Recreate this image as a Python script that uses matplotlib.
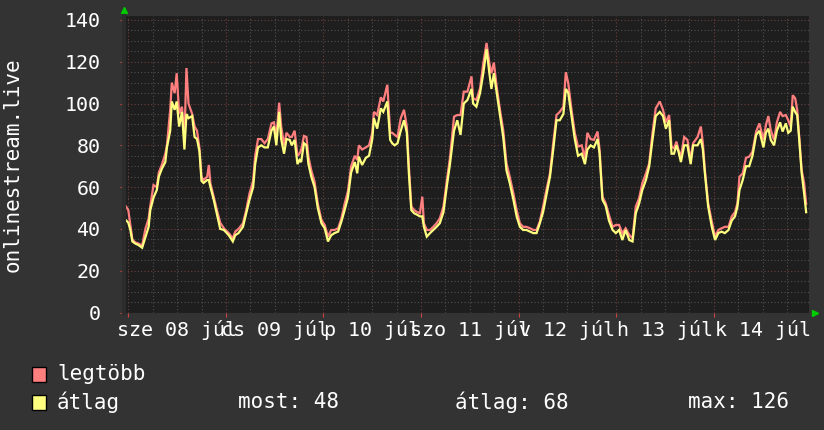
import matplotlib
matplotlib.use("Agg")
import matplotlib.pyplot as plt
from matplotlib.patches import Rectangle
from matplotlib.ticker import MultipleLocator
from matplotlib.transforms import blended_transform_factory

# time in hours since 08 júl 00:00
hours = [-1.0, 0, 0.5, 1, 1.7, 2.5, 3.4, 4.2, 5, 5.4, 6.2, 7, 7.5, 8.3, 9.1, 9.5, 10.3, 10.7, 11.4, 11.9,
         12.5, 13.2, 13.8, 14.3, 14.8, 15.7, 16.3, 16.9, 17.5, 18, 18.5, 19.4, 19.8, 20.2, 21, 21.8, 22.6, 23.5,
         24.7, 25.7, 26.3, 27.1, 28.2, 29, 29.8, 30.7, 31.2, 31.9, 32.7, 33.5, 34.3, 35.2, 35.8, 36.4, 37.1,
         37.6, 38.3, 38.9, 39.7, 40.2, 40.9, 41.6, 42.1, 42.5, 43.2, 43.8, 44.3, 45, 45.8, 46.6, 47.5, 48.3,
         49.1, 49.9, 50.7, 51.6, 52.4, 53.2, 54, 54.8, 55.7, 56.3, 56.7, 57.5, 58.4, 59.2, 60, 60.4, 61.2,
         62.1, 62.7, 63.3, 63.7, 64.4, 64.9, 65.5, 66.2, 67, 67.8, 68.5, 69, 69.6, 70.3, 71.1, 71.7, 72.3,
         72.7, 73.4, 74.2, 75, 75.8, 76.6, 77.5, 78.3, 79.1, 80.1, 80.9, 81.7, 82.5, 83.4, 84.4, 84.8, 85.6,
         86.5, 87.3, 88.1, 88.8, 89.3, 89.9, 90.6, 91.4, 92.2, 93, 93.8, 94.7, 95.5, 96.3, 97.1, 97.9, 98.8,
         99.6, 100.4, 101.2, 102, 102.9, 103.7, 104.5, 105.3, 106.1, 107, 107.6, 108.2, 109, 109.8, 110.6,
         111.5, 112.3, 112.9, 113.7, 114.5, 115.4, 115.9, 116.6, 117.4, 118.2, 119.1, 119.9, 120.7, 121.5,
         122.3, 123.2, 124, 124.8, 125.6, 126.4, 127.3, 128.1, 128.9, 129.7, 130.7, 131.5, 132.2, 133, 133.6,
         134.2, 134.8, 135.3, 135.9, 136.7, 137.5, 138.3, 138.9, 140, 140.8, 141.3, 141.8, 142.6, 143.5,
         144.3, 145.1, 145.9, 146.7, 147.6, 148.4, 149.2, 149.8, 150.3, 151.1, 151.9, 152.7, 153.5, 154.4,
         155.2, 156.2, 156.8, 157.4, 158, 158.8, 159.5, 160.3, 160.9, 161.7, 162.3, 162.9, 163.4, 164,
         164.5, 165, 165.6, 166.2, 166.7]

avg_vals = [45, 43, 39.5, 34, 33, 32.3, 31, 36, 41, 49, 55, 58.6, 65, 69, 72, 79, 87, 101, 97, 101,
            89, 96, 78, 95, 93, 94, 84, 83, 77, 63, 62, 63.4, 63.4, 60, 54, 47, 40, 39.5,
            37, 34, 37, 38, 41, 47.5, 54, 60, 71, 79, 80, 79, 79, 87, 89, 80, 96,
            83, 76, 83, 82.6, 80, 82.6, 71, 73, 72, 81, 80, 71, 65, 60, 50, 42.7, 40.3,
            34, 37, 38, 38.7, 43.5, 49, 55, 67, 72, 66.6, 74.6, 70.6, 74, 75, 83, 93, 88,
            97.7, 96, 99, 101, 82.6, 81, 80, 81, 87, 92, 86, 66.6, 49, 47.5, 46.7, 46, 46,
            41, 36.3, 38, 39.5, 41, 42.7, 48, 60, 71, 87, 92, 85, 100, 101.7, 107, 100, 98.5,
            105, 114.5, 126, 114.5, 107, 114.5, 105, 94.5, 84, 68, 62, 54, 46, 41, 39.5, 39.5, 38.7,
            38, 38, 42.7, 48, 57, 65, 78, 92, 92, 95, 107, 105, 94, 83, 75,
            76, 71, 78, 80, 79, 83, 76, 54, 51, 44, 39.5, 38, 39.5, 34.7,
            39.5, 34.7, 34, 47.5, 52, 58.6, 63.4, 70, 82.6, 94, 96, 94, 88, 92, 76,
            76, 80, 77, 72, 80, 80, 71, 80, 80, 83, 78, 66.6, 50.7, 41,
            34.7, 38, 38.7, 38, 39.5, 44, 46, 50.7, 58.6, 63.4, 70, 70, 75, 85,
            87, 79, 86, 88, 82.6, 80, 87, 91, 86.6, 90.5, 86, 87, 98.5, 96,
            94.5, 82.6, 66.6, 57, 48]

max_vals = [52, 49, 42, 35, 33.5, 33, 32, 40, 45, 51, 61, 60, 67, 71, 76, 80, 97, 110, 105, 114.5,
            95, 98.5, 83, 117, 100, 95, 89, 87, 78.6, 65, 63.4, 65, 70.6, 61.8, 55.4, 49, 43, 40.3,
            38, 35.5, 38.7, 40, 42.7, 49, 57, 63, 75, 83, 83, 81, 83, 90.5, 91, 84, 100.4,
            89, 80, 86, 84, 84, 87, 75, 76, 77.8, 84.5, 84, 74.6, 68, 62.6, 52, 44.3, 41.9,
            36.3, 39.5, 39.5, 40.3, 45, 52, 58, 70, 75, 73, 80, 78, 79, 80, 86, 96, 94.5,
            103, 101, 105.7, 109, 86, 86, 85, 84, 93, 97, 89, 70, 50.7, 49, 48, 47.5, 55.4,
            42.7, 39.5, 39.5, 41, 42.7, 45, 50.7, 62.6, 74, 93.7, 94.5, 94.5, 105.7, 105.7, 113, 102.5, 101.7,
            107.3, 119.3, 129, 119.3, 114.5, 119.6, 108, 97, 87.3, 71.4, 65, 57, 49, 42.7, 41, 41, 40.3,
            39.5, 39.5, 43.5, 50.7, 59.4, 66.6, 81, 94.5, 96, 98.5, 115, 109.7, 97, 86, 79.4,
            80, 73.8, 86, 83, 82.6, 86.6, 77.8, 55.4, 52.3, 46.7, 41, 41.9, 41.9, 37.9,
            40.3, 37.1, 35.5, 50.7, 54.6, 61.8, 66.6, 71.4, 85.8, 97.7, 101, 97, 91, 94.5, 79.4,
            78.6, 81.8, 77.8, 74.6, 84, 82.6, 73, 81, 84, 89, 81, 68, 52.3, 43.5,
            36.3, 39.5, 40.3, 41, 41, 46, 48, 52.3, 65, 66.6, 74, 74.6, 77, 86.6,
            90.5, 82.6, 89.7, 94, 87.3, 82.6, 91, 96, 94, 94.5, 92, 89, 104, 102.5,
            97, 84, 68, 62, 52]

day_labels = ["sze 08 júl", "cs 09 júl", "p 10 júl", "szo 11 júl", "v 12 júl", "h 13 júl", "k 14 júl"]
y_ticks = [0, 20, 40, 60, 80, 100, 120, 140]
legend_names = ["legtöbb", "átlag"]
stats_text = ["most: 48", "átlag: 68", "max: 126"]

BG = "#333333"
CANVAS = "#1e1e1e"
RED = "#ff7f7f"
YEL = "#ffff7f"
TXT = "#ffffff"
MONO = "DejaVu Sans Mono"

W, H = 824, 430
fig = plt.figure(figsize=(W / 100, H / 100), dpi=100, facecolor=BG)
ax = fig.add_axes([124 / W, (H - 312.5) / H, (809 - 124) / W, (312.5 - 16) / H])
ax.set_facecolor(CANVAS)

ax.set_xlim(-1.06, 167.4)
ax.set_ylim(0, 141.9)

ax.xaxis.set_major_locator(MultipleLocator(24))
ax.xaxis.set_minor_locator(MultipleLocator(6))
ax.set_yticks(y_ticks)
ax.yaxis.set_minor_locator(MultipleLocator(5))

ax.grid(which="minor", color="#505050", linestyle=(0, (1, 2)), linewidth=0.8)
ax.grid(which="major", color="#6e3e3e", linestyle=(0, (1, 2)), linewidth=0.8)
ax.set_axisbelow(True)

ax.tick_params(axis="x", which="both", labelbottom=False, length=0)
ax.tick_params(axis="x", which="major", length=3, color="#cc4444", direction="out")
ax.tick_params(axis="y", which="major", length=3, color="#cc4444", pad=14,
               labelsize=14.4, labelcolor=TXT)
ax.tick_params(axis="y", which="minor", length=0)
for lbl in ax.get_yticklabels():
    lbl.set_fontfamily(MONO)

for s in ["top", "right", "bottom"]:
    ax.spines[s].set_visible(False)
ax.spines["left"].set_color("#2c2c2c")
ax.spines["left"].set_linewidth(3)

ax.plot(hours, max_vals, color=RED, linewidth=1.6, solid_joinstyle="miter")
ax.plot(hours, avg_vals, color=YEL, linewidth=1.6, solid_joinstyle="miter")

# day labels centred at noon
trans = blended_transform_factory(ax.transData, ax.transAxes)
for i, lab in enumerate(day_labels):
    ax.text(i * 24 + 12, -0.06, lab, transform=trans, ha="center", va="center",
            fontsize=14.4, color=TXT, fontfamily=MONO, clip_on=False)

# arrows
ax.plot([0], [1.02], transform=ax.transAxes, marker="^", color="#00cc00", markersize=5,
        clip_on=False, linestyle="none")
ax.plot([1.009], [0], transform=ax.transAxes, marker=">", color="#00cc00", markersize=5,
        clip_on=False, linestyle="none")

# y label
fig.text(13 / W, 1 - 165 / H, "onlinestream.live", rotation=90, ha="center", va="center",
         fontsize=15, color=TXT, fontfamily=MONO)

# legend
rows_y = [374, 402]
colors = [RED, YEL]
for yy, col, name in zip(rows_y, colors, legend_names):
    fig.patches.append(Rectangle((32 / W, 1 - (yy + 7.5) / H), 14 / W, 15 / H,
                                 transform=fig.transFigure, facecolor=col,
                                 edgecolor="black", linewidth=1))
    fig.text(57 / W, 1 - yy / H, name, ha="left", va="center", fontsize=15,
             color=TXT, fontfamily=MONO)
for xx, t in zip([238, 455, 688], stats_text):
    fig.text(xx / W, 1 - rows_y[1] / H, t, ha="left", va="center", fontsize=15,
             color=TXT, fontfamily=MONO)

fig.savefig("out.png", dpi=100, facecolor=BG)
